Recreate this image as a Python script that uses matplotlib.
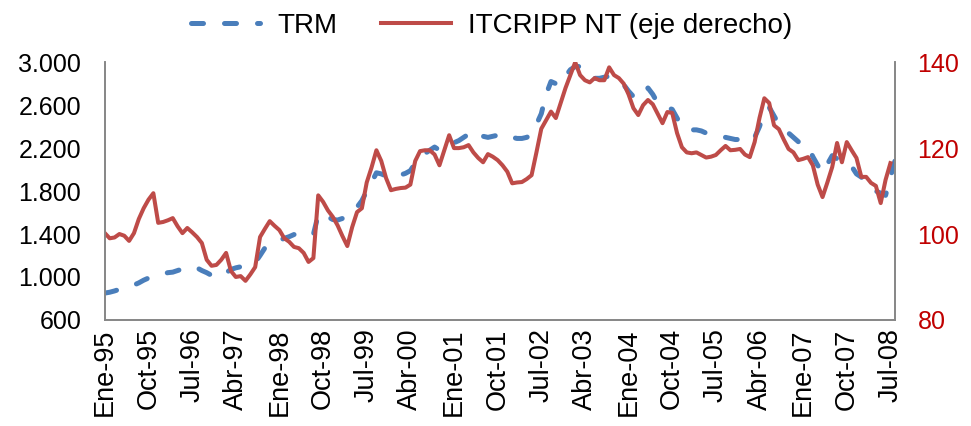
import matplotlib
matplotlib.use("Agg")
from matplotlib import pyplot as plt
from matplotlib.ticker import FuncFormatter

plt.rcParams['font.family'] = ['Liberation Sans', 'DejaVu Sans']

# TRM mensual, Ene-95 a Ago-08
trm = [850, 858, 870, 885, 895, 905, 925, 945, 970, 990, 1010, 1020,
       1030, 1040, 1045, 1060, 1075, 1090, 1095, 1085, 1060, 1040, 1015, 1000,
       1005, 1040, 1070, 1085, 1095, 1105, 1115, 1135, 1200, 1270, 1300, 1320,
       1340, 1360, 1375, 1395, 1400, 1405, 1395, 1395, 1580, 1590, 1560, 1535,
       1530, 1545, 1570, 1600, 1650, 1710, 1800, 1880, 1970, 1960, 1940, 1920,
       1930, 1950, 1965, 1990, 2060, 2120, 2150, 2180, 2210, 2180, 2200, 2230,
       2250, 2270, 2300, 2330, 2360, 2340, 2310, 2300, 2310, 2320, 2330, 2310,
       2300, 2290, 2290, 2300, 2330, 2420, 2520, 2700, 2820, 2800, 2790, 2870,
       2930, 2960, 2960, 2920, 2870, 2850, 2850, 2860, 2870, 2850, 2820, 2790,
       2730, 2680, 2660, 2710, 2760, 2700, 2620, 2600, 2580, 2560, 2480, 2400,
       2390, 2370, 2370, 2360, 2340, 2330, 2320, 2310, 2300, 2290, 2280, 2280,
       2270, 2260, 2300, 2400, 2540, 2580, 2500, 2420, 2380, 2340, 2300, 2260,
       2240, 2220, 2120, 2040, 1970, 2050, 2130, 2100, 2050, 2040, 2030, 1960,
       1930, 1880, 1830, 1800, 1780, 1760, 1930, 2090]

# ITCRIPP NT mensual, Ene-95 a Jul-08
itcr = [100.2, 99, 99.2, 100, 99.6, 98.4, 100.2, 103.5, 106, 108, 109.5, 102.6,
        102.8, 103.2, 103.7, 101.8, 100.2, 101.4, 100.4, 99.3, 97.9, 94, 92.6, 92.8,
        94, 95.6, 91.4, 90, 90.2, 89.1, 90.6, 92.3, 99.3, 101.2, 103, 101.9,
        100.9, 99, 98.2, 97, 96.7, 95.6, 93.5, 94.4, 109, 107.5, 105.5, 104,
        102, 99.5, 97.2, 101.6, 105.1, 106, 112, 115.5, 119.5, 117, 113, 110.2,
        110.5, 110.7, 110.8, 111.5, 117, 119.3, 119.5, 119.5, 118.5, 116, 119.5, 123,
        120, 120, 120.2, 120.7, 119, 117.7, 116.7, 118.6, 118, 117.2, 116, 114.5,
        111.8, 112, 112.1, 112.8, 113.7, 119, 124.5, 126.5, 128.5, 127, 130.5, 134,
        137, 140, 137, 135.8, 135.3, 136.3, 135.8, 135.8, 138.8, 137, 136.3, 135,
        132.5, 129.3, 127.7, 130, 131.2, 130.2, 128, 125.8, 128.4, 128.2, 123.5, 120.2,
        119, 118.8, 119, 118.4, 117.8, 118, 118.4, 119.5, 120.5, 119.5, 119.6, 119.8,
        118.5, 117.9, 121.4, 127, 131.6, 130.5, 125.3, 124.4, 122, 119.8, 119, 117.2,
        117.5, 117.9, 116, 111.5, 108.6, 112, 115.6, 121.2, 116.7, 121.4, 119.5, 117.7,
        113.3, 113.3, 111.9, 111.2, 107.2, 112.6, 116.5]

etiquetas = ['Ene-95', 'Oct-95', 'Jul-96', 'Abr-97', 'Ene-98', 'Oct-98', 'Jul-99',
             'Abr-00', 'Ene-01', 'Oct-01', 'Jul-02', 'Abr-03', 'Ene-04', 'Oct-04',
             'Jul-05', 'Abr-06', 'Ene-07', 'Oct-07', 'Jul-08']
pos = [9 * k for k in range(len(etiquetas))]

azul = '#4A7EBB'
rojo = '#BE4B48'
gris = '#868686'

fig = plt.figure(figsize=(9.71, 4.26), dpi=100)
ax = fig.add_axes([0.108, 0.249, 0.814, 0.605])
ax2 = ax.twinx()

l1, = ax.plot(range(len(trm)), trm, color=azul, lw=3.6, dashes=(2.4, 4.2),
              dash_capstyle='round', label='TRM')
l2, = ax2.plot(range(len(itcr)), itcr, color=rojo, lw=2.9,
               solid_joinstyle='round', label='ITCRIPP NT (eje derecho)')

ax.set_xlim(0, len(trm) - 1)
ax.set_ylim(600, 3000)
ax.set_yticks(range(600, 3001, 400))
ax.yaxis.set_major_formatter(FuncFormatter(lambda v, p: f'{int(v):,}'.replace(',', '.')))
ax2.set_ylim(80, 140)
ax2.set_yticks([80, 100, 120, 140])

ax.set_xticks(pos)
ax.set_xticklabels(etiquetas, rotation=90)

for a in (ax, ax2):
    a.spines['top'].set_visible(False)
    for s in ('left', 'right', 'bottom'):
        a.spines[s].set_color(gris)
        a.spines[s].set_linewidth(1.2)
    a.tick_params(length=0, labelsize=18)
ax.tick_params(axis='y', pad=17)
ax.tick_params(axis='x', labelsize=19.5, pad=6)
ax2.tick_params(axis='y', colors='#C00000', pad=16)

fig.legend([l1, l2], ['TRM', 'ITCRIPP NT (eje derecho)'], loc='center',
           bbox_to_anchor=(0.506, 0.94), ncol=2, frameon=False, fontsize=20,
           handlelength=2.5, columnspacing=1.6, handletextpad=0.6)

fig.savefig('out.png', dpi=100)
